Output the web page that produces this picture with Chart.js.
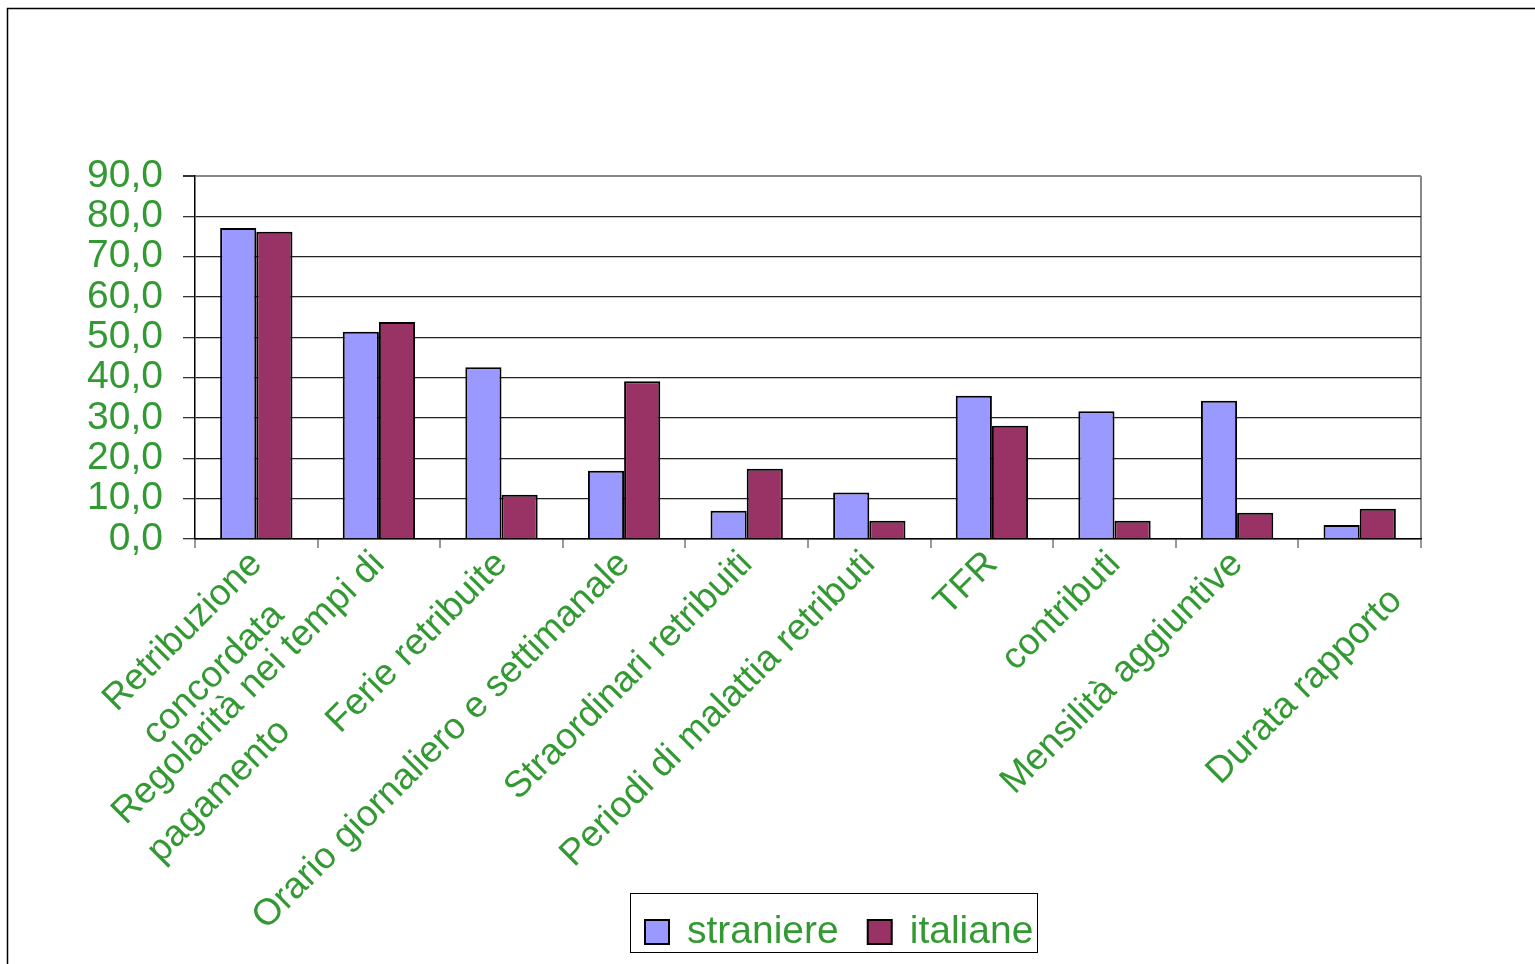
<!DOCTYPE html>
<html lang="it">
<head>
<meta charset="utf-8">
<title>straniere / italiane</title>
<script src="https://cdn.jsdelivr.net/npm/chart.js@4/dist/chart.umd.min.js"></script>
<style>
  html, body { margin: 0; padding: 0; background: #fff; }
  #wrap { position: relative; width: 1535px; height: 964px; }
</style>
</head>
<body>
<div id="wrap"><canvas id="vociChart" width="1535" height="964"></canvas></div>
<script>
// data
// (the last label sits one line lower in the original, hence the empty first line)
const categories = [
  ['Retribuzione', 'concordata'],
  ['Regolarità nei tempi di', 'pagamento'],
  'Ferie retribuite',
  'Orario giornaliero e settimanale',
  'Straordinari retribuiti',
  'Periodi di malattia retributi',
  'TFR',
  'contributi',
  'Mensilità aggiuntive',
  ['', 'Durata rapporto']
];
const straniere = [77.1, 51.4, 42.6, 16.9, 7.0, 11.5, 35.5, 31.7, 34.3, 3.5];
const italiane = [76.2, 53.8, 11.0, 39.1, 17.4, 4.5, 28.1, 4.5, 6.5, 7.5];
const seriesNames = ['straniere', 'italiane'];
const yTickValues = [0, 10, 20, 30, 40, 50, 60, 70, 80, 90];

const green = '#339933';
const fontFamily = '"Liberation Sans", Arial, sans-serif';
const catFontSize = 37;

// rotated labels are right aligned by Chart.js; pad the short lines so
// multi-line labels start at the same point, like in the original
const measureCtx = document.createElement('canvas').getContext('2d');
measureCtx.font = catFontSize + 'px ' + fontFamily;
function alignLines(label) {
  if (!Array.isArray(label)) return label;
  const widths = label.map((l) => measureCtx.measureText(l).width);
  const maxW = Math.max(...widths);
  const space = measureCtx.measureText(' ').width;
  return label.map((l, i) => (l ? l + ' '.repeat(Math.round((maxW - widths[i]) / space)) : ' '));
}

// outer frame of the original slide
const framePlugin = {
  id: 'frame',
  beforeDraw(chart) {
    const c = chart.ctx;
    c.save();
    c.strokeStyle = '#000';
    c.lineWidth = 1.5;
    c.beginPath();
    c.moveTo(7.5, chart.height);
    c.lineTo(7.5, 8.5);
    c.lineTo(chart.width, 8.5);
    c.stroke();
    c.restore();
  }
};

// boxed legend sitting under the labels, like in the original
const boxLegendPlugin = {
  id: 'boxLegend',
  afterDraw(chart) {
    const c = chart.ctx;
    const box = { x: 630, y: 893, w: 407, h: 59 };
    c.save();
    c.fillStyle = '#fff';
    c.fillRect(box.x, box.y, box.w, box.h);
    c.strokeStyle = '#000';
    c.lineWidth = 1;
    c.strokeRect(box.x + 0.5, box.y + 0.5, box.w, box.h);
    c.font = '39px ' + fontFamily;
    c.textBaseline = 'alphabetic';
    let x = box.x + 15;
    chart.data.datasets.forEach((ds) => {
      c.fillStyle = ds.backgroundColor;
      c.fillRect(x, 920, 24, 24);
      c.strokeStyle = '#000';
      c.lineWidth = 2;
      c.strokeRect(x, 920, 24, 24);
      x += 42;
      c.fillStyle = green;
      c.fillText(ds.label, x, 943);
      x += c.measureText(ds.label).width + 29;
    });
    c.restore();
  }
};

new Chart(document.getElementById('vociChart'), {
  type: 'bar',
  data: {
    labels: categories,
    datasets: [
      {
        label: seriesNames[0],
        data: straniere,
        backgroundColor: '#9999FF',
        borderColor: '#000',
        borderWidth: 2,
        categoryPercentage: 0.59,
        barPercentage: 1.0
      },
      {
        label: seriesNames[1],
        data: italiane,
        backgroundColor: '#993366',
        borderColor: '#000',
        borderWidth: 2,
        categoryPercentage: 0.59,
        barPercentage: 1.0
      }
    ]
  },
  options: {
    responsive: false,
    animation: false,
    layout: {
      padding: { left: 8, top: 176, right: 114, bottom: 0 }
    },
    plugins: {
      legend: { display: false },
      tooltip: { enabled: false }
    },
    scales: {
      x: {
        afterFit(scale) {
          scale.height = 964 - 539;
        },
        border: { color: '#000', width: 1.5 },
        grid: {
          offset: true,
          drawOnChartArea: true,
          color: (ctx) => (ctx.tick ? 'transparent' : '#888'),
          lineWidth: 2,
          tickColor: '#333',
          tickLength: 9,
          tickWidth: 1
        },
        ticks: {
          autoSkip: false,
          maxRotation: 45,
          minRotation: 45,
          padding: -8,
          color: green,
          font: { family: fontFamily, size: catFontSize, lineHeight: 1.4 },
          callback: (v, i) => alignLines(categories[i])
        }
      },
      y: {
        min: 0,
        max: 90,
        afterFit(scale) {
          scale.width = 187;
        },
        afterBuildTicks(scale) {
          scale.ticks = yTickValues.map((v) => ({ value: v }));
        },
        border: { color: '#000', width: 1.5 },
        grid: {
          color: (ctx) => (ctx.tick && ctx.tick.value === 90 ? '#888' : '#222'),
          lineWidth: (ctx) => (ctx.tick && ctx.tick.value === 90 ? 2 : 1.3),
          tickColor: '#333',
          tickLength: 12
        },
        ticks: {
          autoSkip: false,
          padding: 20,
          color: green,
          font: { family: fontFamily, size: 39 },
          callback: (v) => v.toFixed(1).replace('.', ',')
        }
      }
    }
  },
  plugins: [framePlugin, boxLegendPlugin]
});
</script>
</body>
</html>
